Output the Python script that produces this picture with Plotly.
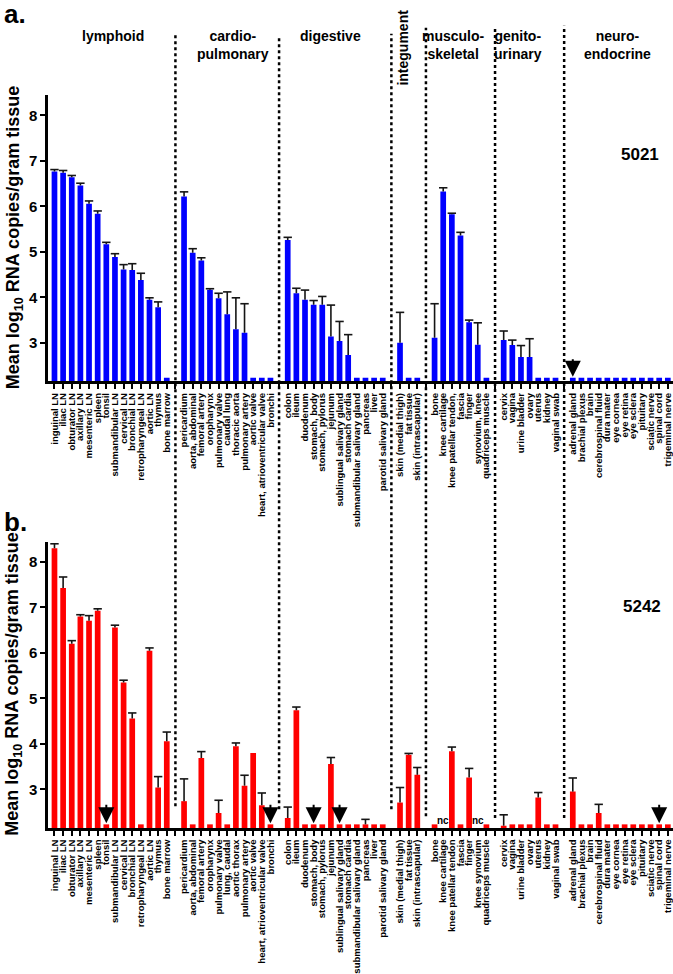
import plotly.graph_objects as go

FONT = "Liberation Sans, Arial, Helvetica, sans-serif"

# ---------------- tick labels ----------------
lymph_a = ["inguinal LN", "iliac LN", "obturator LN", "axillary LN", "mesenteric LN", "spleen", "tonsil",
           "submandibular LN", "cervical LN", "bronchial LN", "retropharyngeal LN", "aortic LN", "thymus", "bone marrow"]
lymph_b = ["inguinal LN", "iliac LN", "obturator LN", "axillary LN", "mesenteric LN", "spleen", "tonsil",
           "submandibular LN", "cervical LN", "bronchial LN", "retropharyngeal LN", "aortic LN", "thymus", "bone marrow"]
cardio_a = ["pericardium", "aorta, abdominal", "femoral artery", "oropharynx", "pulmonary valve", "caudal lung",
            "thoracic aorta", "pulmonary artery", "aortic valve", "heart, atrioventricular valve", "bronchi"]
cardio_b = ["pericardium", "aorta, abdominal", "femoral artery", "oropharynx", "pulmonary valve", "lung, caudal",
            "aortic thorax", "pulmonary artery", "aortic valve", "heart, atrioventricular valve", "bronchi"]
dig_a = ["colon", "ileum", "duodenum", "stomach, body", "stomach, pylorus", "jejunum", "sublingual salivary gland",
         "stomach cardia", "submandibular salivary gland", "pancreas", "liver", "parotid salivary gland"]
dig_b = ["colon", "ileum", "duodenum", "stomach, body", "stomach, pylorus", "jejunum", "sublingual salivary gland",
         "stomach cardia", "submandibular salivary gland", "pancreas", "liver", "parotid salivary gland"]
integ_a = ["skin (medial thigh)", "fat tissue", "skin (intrascapular)"]
integ_b = ["skin (medial thigh)", "fat tissue", "skin (intrascapular)"]
musc_a = ["bone", "knee cartilage", "knee patellar tendon,", "fascia", "finger", "synovium, knee", "quadriceps muscle"]
musc_b = ["bone", "knee cartilage", "knee patellar tendon", "fascia", "finger", "knee synovium", "quadriceps muscle"]
gen_a = ["cervix", "vagina", "urine bladder", "ovary", "uterus", "kidney", "vaginal swab"]
gen_b = ["cervix", "vagina", "urine bladder", "ovary", "uterus", "kidney", "vaginal swab"]
neuro_a = ["adrenal gland", "brachial plexus", "brain", "cerebrospinal fluid", "dura mater", "eye cornea",
           "eye retina", "eye sclera", "pituitary", "sciatic nerve", "spinal cord", "trigeminal nerve"]
neuro_b = ["adrenal gland", "brachial plexus", "brain", "cerebrospinal fluid", "dura mater", "eye cornea",
           "eye retina", "eye sclera", "pituitary", "sciatic nerve", "spinal cord", "trigeminal nerve"]

group_titles = ["lymphoid", "cardio-<br>pulmonary", "digestive", "integument",
                "musculo-<br>skeletal", "genito-<br>urinary", "neuro-<br>endocrine"]

# ---------------- panel a (animal 5021) ----------------
lymph_a_val = [6.77, 6.74, 6.64, 6.46, 6.06, 5.84, 5.17, 4.89, 4.61, 4.60, 4.38, 3.95, 3.78, 2.23]
lymph_a_err = [0.04, 0.05, 0.04, 0.05, 0.06, 0.06, 0.04, 0.07, 0.11, 0.14, 0.15, 0.04, 0.12, 0]
cardio_a_val = [6.22, 4.98, 4.81, 4.17, 3.98, 3.63, 3.30, 3.22, 2.23, 2.23, 2.23]
cardio_a_err = [0.10, 0.09, 0.06, 0.02, 0.11, 0.49, 0.69, 0.64, 0, 0, 0]
dig_a_val = [5.26, 4.09, 3.95, 3.84, 3.84, 3.14, 3.04, 2.73, 2.23, 2.23, 2.23, 2.23]
dig_a_err = [0.06, 0.11, 0.21, 0.09, 0.18, 0.69, 0.43, 0.45, 0, 0, 0, 0]
integ_a_val = [3.00, 2.23, 2.23]
integ_a_err = [0.67, 0, 0]
musc_a_val = [3.11, 6.33, 5.83, 5.36, 3.45, 2.96, 2.23]
musc_a_err = [0.75, 0.08, 0.02, 0.07, 0.05, 0.48, 0]
gen_a_val = [3.06, 2.95, 2.69, 2.69, 2.23, 2.23, 2.23]
gen_a_err = [0.20, 0.11, 0.25, 0.40, 0, 0, 0]
neuro_a_val = [2.23, 2.23, 2.23, 2.23, 2.23, 2.23, 2.23, 2.23, 2.23, 2.23, 2.23, 2.23]
neuro_a_err = [0, 0, 0, 0, 0, 0, 0, 0, 0, 0, 0, 0]

# ---------------- panel b (animal 5242) ----------------
lymph_b_val = [8.30, 7.43, 6.20, 6.80, 6.71, 6.93, 2.23, 6.56, 5.35, 4.56, 2.23, 6.05, 3.04, 4.06]
lymph_b_err = [0.10, 0.24, 0.07, 0.04, 0.11, 0.04, 0, 0.05, 0.05, 0.12, 0, 0.06, 0.24, 0.20]
cardio_b_val = [2.74, 2.23, 3.69, 2.23, 2.48, 2.23, 3.95, 3.08, 3.80, 2.65, 2.23]
cardio_b_err = [0.49, 0, 0.14, 0, 0.28, 0, 0.07, 0.23, 0, 0.27, 0]
dig_b_val = [2.37, 4.74, 2.23, 2.23, 2.23, 3.56, 2.23, 2.23, 2.23, 2.23, 2.23, 2.23]
dig_b_err = [0.24, 0.07, 0, 0, 0, 0.14, 0, 0, 0, 0.11, 0, 0]
integ_b_val = [2.71, 3.76, 3.32]
integ_b_err = [0.33, 0.03, 0.16]
musc_b_val = [2.23, None, 3.84, 2.23, 3.26, None, 2.23]
musc_b_err = [0, 0, 0.09, 0, 0.20, 0, 0]
gen_b_val = [2.20, 2.23, 2.23, 2.23, 2.82, 2.23, 2.23]
gen_b_err = [0.24, 0, 0, 0, 0.11, 0, 0]
neuro_b_val = [2.95, 2.23, 2.23, 2.48, 2.23, 2.23, 2.23, 2.23, 2.23, 2.23, 2.23, 2.23]
neuro_b_err = [0.30, 0, 0, 0.19, 0, 0, 0, 0, 0, 0, 0, 0]

arrows_a = ["adrenal gland"]
arrows_b = ["tonsil", "bronchi", "stomach, body", "sublingual salivary gland", "spinal cord"]
not_collected_b = ["knee cartilage", "knee synovium"]

labels_a = [lymph_a, cardio_a, dig_a, integ_a, musc_a, gen_a, neuro_a]
labels_b = [lymph_b, cardio_b, dig_b, integ_b, musc_b, gen_b, neuro_b]
vals_a = [lymph_a_val, cardio_a_val, dig_a_val, integ_a_val, musc_a_val, gen_a_val, neuro_a_val]
errs_a = [lymph_a_err, cardio_a_err, dig_a_err, integ_a_err, musc_a_err, gen_a_err, neuro_a_err]
vals_b = [lymph_b_val, cardio_b_val, dig_b_val, integ_b_val, musc_b_val, gen_b_val, neuro_b_val]
errs_b = [lymph_b_err, cardio_b_err, dig_b_err, integ_b_err, musc_b_err, gen_b_err, neuro_b_err]

# ---------------- build slots ----------------
tickvals, text_a, text_b, gaps = [], [], [], []
xa, ya, ea, xb, yb, eb = [], [], [], [], [], []
pos_a, pos_b = {}, {}
p = 0
for g in range(len(labels_a)):
    if g > 0:
        tickvals.append(p); text_a.append(""); text_b.append(""); gaps.append(p); p += 1
    for j in range(len(labels_a[g])):
        tickvals.append(p)
        text_a.append(labels_a[g][j]); text_b.append(labels_b[g][j])
        pos_a[labels_a[g][j]] = (p, vals_a[g][j])
        pos_b[labels_b[g][j]] = (p, vals_b[g][j])
        xa.append(p); ya.append(vals_a[g][j]); ea.append(errs_a[g][j])
        xb.append(p); yb.append(vals_b[g][j]); eb.append(errs_b[g][j])
        p += 1

# pixel helpers for layout placement (figure 673 x 974, plot x 48..673, paper y 95..837)
L, T, B_PIX = 48, 95, 837
PW, PH = 673 - L, B_PIX - T
def px(x):
    return (x - L) / PW
def py(y):
    return (B_PIX - y) / PH

fig = go.Figure()

def add_panel(xs, ys, es, color, xref, yref):
    fig.add_trace(go.Bar(x=xs, y=ys, width=0.66, marker=dict(color=color, line=dict(width=0)),
                         xaxis=xref, yaxis=yref, hoverinfo="x+y"))
    ex, etop, emin = [], [], []
    for x, y, e in zip(xs, ys, es):
        if y is not None and e > 0:
            ex.append(x); etop.append(y + e); emin.append(e)
    fig.add_trace(go.Scatter(x=ex, y=etop, mode="markers", xaxis=xref, yaxis=yref,
                             marker=dict(symbol="line-ew", size=6, line=dict(width=1.6, color="#151515")),
                             error_y=dict(type="data", symmetric=False, array=[0] * len(ex), arrayminus=emin,
                                          width=0, thickness=1.6, color="#151515"),
                             cliponaxis=False, hoverinfo="skip"))

add_panel(xa, ya, ea, "#0000ff", "x", "y")
add_panel(xb, yb, eb, "#ff0000", "x2", "y2")

xcommon = dict(range=[-0.75, 71.6], tickmode="array", tickvals=tickvals, tickangle=-90,
               ticks="outside", ticklen=5, tickwidth=2, tickcolor="black", ticklabeloverflow="allow",
               showline=True, linewidth=2.5, linecolor="black", showgrid=False, zeroline=False,
               tickfont=dict(family=FONT, size=9.5, color="black", weight="bold"))
ycommon = dict(range=[2.15, 8.45], tickmode="array", tickvals=[3, 4, 5, 6, 7, 8],
               ticks="outside", ticklen=5, tickwidth=2, tickcolor="black",
               showline=True, linewidth=2.5, linecolor="black", showgrid=False, zeroline=False,
               tickfont=dict(family=FONT, size=15, color="black", weight="bold"))

fig.update_layout(
    width=673, height=974, margin=dict(l=L, r=0, t=T, b=974 - B_PIX),
    paper_bgcolor="white", plot_bgcolor="white", showlegend=False,
    font=dict(family=FONT, color="black"),
    xaxis=dict(xcommon, ticktext=text_a, anchor="y", domain=[0, 1]),
    yaxis=dict(ycommon, anchor="x", domain=[py(385), 1]),
    xaxis2=dict(xcommon, ticktext=text_b, anchor="y2", domain=[0, 1]),
    yaxis2=dict(ycommon, anchor="x2", domain=[0, py(547)]),
)

# dotted group separators
sep_top = [32, 37, 33, 27, 27, 25]
sep_bot = [815, 818, 818, 825, 827, 827]
for gx, t0, b0 in zip(gaps, sep_top, sep_bot):
    fig.add_shape(type="line", xref="x", yref="paper", x0=gx, x1=gx, y0=py(b0), y1=py(t0),
                  line=dict(color="black", width=2.5, dash="dot"))

def note(text, x, y, size, angle=0, xanchor="center", yanchor="middle"):
    return dict(text=text, x=px(x), y=py(y), xref="paper", yref="paper", textangle=angle,
                xanchor=xanchor, yanchor=yanchor, showarrow=False, align="center",
                font=dict(size=size, family=FONT, color="black"))

ann = []
# group headers
head_x = [113, 233, 330, 403, 453, 518, 617]
for t, hx in zip(group_titles, head_x):
    if t == "integument":
        ann.append(note("<b>integument</b>", hx, 47, 14, angle=-90))
    else:
        ann.append(note("<b>" + t + "</b>", hx, 25, 14, yanchor="top"))

# panel letters, animal ids, y titles
ann.append(note("<b>a.</b>", 2, 13, 26, xanchor="left"))
ann.append(note("<b>b.</b>", 2, 527, 26, xanchor="left"))
ann.append(note("<b>5021</b>", 640, 155, 17))
ann.append(note("<b>5242</b>", 642, 613, 17))
ytitle = "<b>Mean log<sub>10</sub> RNA copies/gram tissue</b>"
for cy in [240, 692]:
    ann.append(note(ytitle, 14, cy, 18, angle=-90))

# arrows marking tissues
for name in arrows_a:
    x, y = pos_a[name]
    ann.append(dict(x=x, y=y, xref="x", yref="y", ax=0, ay=-20, text="", showarrow=True,
                    arrowhead=2, arrowsize=1.6, arrowwidth=2, arrowcolor="black", standoff=1))
for name in arrows_b:
    x, y = pos_b[name]
    ann.append(dict(x=x, y=y, xref="x2", yref="y2", ax=0, ay=-21, text="", showarrow=True,
                    arrowhead=2, arrowsize=1.6, arrowwidth=2, arrowcolor="black", standoff=1))
for name in not_collected_b:
    x, _ = pos_b[name]
    ann.append(dict(x=x, y=2.31, xref="x2", yref="y2", text="<b>nc</b>", showarrow=False,
                    xanchor="center", yanchor="middle",
                    font=dict(size=10, family=FONT, color="black")))

fig.update_layout(annotations=ann)

fig.write_html("out.html", config={"displayModeBar": False},
               post_script="document.body.style.margin='0';")
